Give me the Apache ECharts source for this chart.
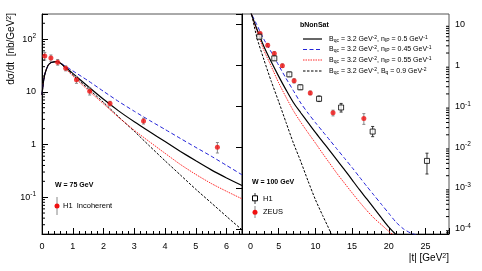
<!DOCTYPE html>
<html><head><meta charset="utf-8">
<script src="https://cdn.jsdelivr.net/npm/echarts@6/dist/echarts.min.js"></script>
<style>html,body{margin:0;padding:0;background:#fff}#c{width:482px;height:271px}</style>
</head><body><div id="c"></div>
<script>
// ---------------- data ----------------
// Left panel: W = 75 GeV, incoherent
const leftT     = [0, 0.05, 0.1, 0.2, 0.3, 0.5, 0.75, 1, 1.5, 2, 2.5, 3, 3.5, 4, 4.5, 5, 5.5, 6, 6.5];
const leftSolid = [8.8, 16, 22.5, 32, 36, 37.5, 29.5, 22.4, 12.6, 7.2, 4.3, 2.7, 1.74, 1.135, 0.74, 0.49, 0.33, 0.232, 0.166];
const leftBlue  = [8.8, 16, 22.5, 32, 36, 37.5, 30.9, 25, 16.2, 10.2, 6.5, 4.27, 2.85, 1.93, 1.30, 0.88, 0.60, 0.40, 0.266];
const leftRed   = [8.8, 16, 22.5, 32, 36, 37.5, 28.2, 20, 10.7, 5.9, 3.24, 1.86, 1.12, 0.68, 0.417, 0.27, 0.182, 0.129, 0.093];
const leftDot   = [8.8, 16, 22.5, 32, 36, 37.5, 28.8, 20.9, 11.5, 6.3, 3.3, 1.78, 0.93, 0.49, 0.263, 0.141, 0.078, 0.043, 0.024];

const h1IncT   = [0.09, 0.29, 0.51, 0.77, 1.12, 1.55, 2.21, 3.3, 5.7];
const h1IncY   = [48, 44, 36.6, 28, 17, 10.3, 6.0, 2.8, 0.89];
const h1IncErr = [8, 6, 4.5, 3, 2.5, 1.6, 0.6, 0.35, 0.2];

// Right panel: W = 100 GeV
const rightDotT  = [1, 2, 3, 4, 5, 6, 7, 8, 9, 10, 11, 12, 13];
const rightDot   = [33, 5.0, 1.35, 0.40, 0.129, 0.040, 0.0126, 0.00447, 0.00148, 5.2e-4, 2.1e-4, 8.7e-5, 3.0e-5];
const rightRedT  = [1, 2, 3, 4, 5, 6, 7, 8, 9, 10, 11, 12, 13, 14, 15, 16, 17, 18, 19, 20, 21, 22];
const rightRed   = [26.3, 7.24, 2.29, 0.933, 0.372, 0.166, 0.0776, 0.0407, 0.0224, 0.0126, 0.00692, 0.00389, 0.00219, 0.00129, 7.6e-4, 4.57e-4, 2.82e-4, 1.82e-4, 1.26e-4, 8.7e-5, 6.3e-5, 4.5e-5];
const rightSolidT = [1, 2, 3, 4, 5, 6, 7, 8, 9, 10, 11, 12, 13, 14, 15, 16, 17, 18, 19, 20, 21, 22];
const rightSolid  = [24.5, 7.94, 2.85, 1.20, 0.537, 0.251, 0.123, 0.0692, 0.0398, 0.0229, 0.0135, 0.00794, 0.00468, 0.00275, 0.00158, 9.1e-4, 5.4e-4, 3.16e-4, 1.86e-4, 1.10e-4, 7.2e-5, 5.0e-5];
const rightBlueT = [1, 2, 3, 4, 5, 6, 7, 8, 9, 10, 11, 12, 13, 14, 15, 16, 17, 18, 19, 20, 21, 22, 23, 24];
const rightBlue  = [22.9, 10, 4.27, 2.09, 1.0, 0.479, 0.240, 0.120, 0.0676, 0.0398, 0.0240, 0.0145, 0.0087, 0.00525, 0.00316, 0.00186, 0.0011, 6.6e-4, 3.98e-4, 2.40e-4, 1.45e-4, 1.0e-4, 7.9e-5, 6.9e-5];

const h1T  = [2.36, 4.4, 6.45, 7.95, 10.5, 13.5, 17.8, 25.2];
const h1Y  = [5.0, 1.48, 0.60, 0.29, 0.152, 0.093, 0.024, 0.0046];
const h1Lo = [4.5, 1.32, 0.53, 0.255, 0.13, 0.072, 0.018, 0.0022];
const h1Hi = [5.6, 1.66, 0.68, 0.33, 0.178, 0.117, 0.032, 0.0071];

const zeusT  = [2.46, 3.5, 4.4, 5.5, 7.1, 9.3, 12.4, 16.6];
const zeusY  = [6.0, 3.1, 1.95, 0.98, 0.42, 0.21, 0.069, 0.050];
const zeusLo = [5.5, 2.85, 1.78, 0.89, 0.37, 0.19, 0.058, 0.036];
const zeusHi = [6.5, 3.4, 2.15, 1.08, 0.47, 0.235, 0.080, 0.066];

const leftXTicks = [0, 1, 2, 3, 4, 5, 6];
const rightXTicks = [0, 5, 10, 15, 20, 25];

// ---------------- helpers ----------------
const zip = (xs, ys) => xs.map((x, i) => [x, ys[i]]);
const FONT = 'Liberation Sans, Arial, sans-serif';
const L = {xmin: 0, xmax: 6.5, ymin: 0.02, ymax: 300};
const R = {xmin: 0, xmax: 28.2, ymin: 7.5e-5, ymax: 18};

function logLabel(v) {
  const e = Math.log10(v), r = Math.round(e);
  if (Math.abs(e - r) > 1e-6) return '';
  if (r === 0) return '1';
  if (r === 1) return '10';
  return '10{s|' + r + '}';
}
function minorVals(lo, hi) {
  const out = [];
  for (let n = Math.floor(Math.log10(lo)); n <= Math.ceil(Math.log10(hi)); n++) {
    for (let k = 2; k <= 9; k++) { const v = k * Math.pow(10, n); if (v > lo && v < hi) out.push(v); }
  }
  return out;
}
function minorTickSeries(xi, xv, dir, vals) {
  return {
    type: 'custom', xAxisIndex: xi, yAxisIndex: xi, silent: true, z: 5,
    data: vals.map(v => [xv, v]), encode: {x: 0, y: 1},
    renderItem: (p, api) => {
      const c = api.coord([api.value(0), api.value(1)]);
      return {type: 'line', shape: {x1: c[0], y1: c[1], x2: c[0] + dir * 3, y2: c[1]}, style: {stroke: '#000', lineWidth: 1}};
    }
  };
}
function errSeries(xi, data, color) {
  return {
    type: 'custom', xAxisIndex: xi, yAxisIndex: xi, silent: true, z: 3,
    data: data, encode: {x: 0, y: [1, 2]},
    renderItem: (p, api) => {
      const a = api.coord([api.value(0), api.value(1)]);
      const b = api.coord([api.value(0), api.value(2)]);
      const st = {stroke: color, lineWidth: 1};
      return {type: 'group', children: [
        {type: 'line', shape: {x1: a[0], y1: a[1], x2: b[0], y2: b[1]}, style: st},
        {type: 'line', shape: {x1: a[0] - 1.5, y1: a[1], x2: a[0] + 1.5, y2: a[1]}, style: st},
        {type: 'line', shape: {x1: b[0] - 1.5, y1: b[1], x2: b[0] + 1.5, y2: b[1]}, style: st}
      ]};
    }
  };
}
const lineStyles = {
  solid: {color: '#000', width: 1.2, type: 'solid'},
  blue:  {color: '#2323d8', width: 1, type: [4, 2.5]},
  red:   {color: '#ff2a2a', width: 1, type: [1.5, 1]},
  dot:   {color: '#000', width: 1, type: [2.5, 1.5]}
};
function curve(xi, xs, ys, st) {
  return {type: 'line', xAxisIndex: xi, yAxisIndex: xi, data: zip(xs, ys), showSymbol: false, smooth: 0.25,
    lineStyle: st, silent: true, z: 2, clip: true};
}
const axLabel = {fontFamily: FONT, fontSize: 9, color: '#000'};
const supRich = {s: {fontFamily: FONT, fontSize: 6.5, verticalAlign: 'top', lineHeight: 12, padding: [0, 0, 4, 0]}};

const option = {
  animation: false,
  backgroundColor: '#fff',
  grid: [
    {left: 42, top: 14, width: 200, height: 220, show: true, borderColor: '#555', borderWidth: 1},
    {left: 242, top: 14, width: 207, height: 220, show: true, borderColor: '#555', borderWidth: 1}
  ],
  xAxis: [
    {type: 'value', gridIndex: 0, min: L.xmin, max: L.xmax, interval: 1,
     axisLine: {show: true, lineStyle: {color: '#000'}}, splitLine: {show: false},
     axisTick: {inside: true, length: 6, lineStyle: {color: '#000'}},
     minorTick: {show: true, splitNumber: 5, length: 3, lineStyle: {color: '#000'}},
     axisLabel: Object.assign({margin: 8, showMaxLabel: false,
       formatter: v => leftXTicks.includes(v) ? String(v) : ''}, axLabel)},
    {type: 'value', gridIndex: 1, min: R.xmin, max: R.xmax, interval: 5,
     axisLine: {show: true, lineStyle: {color: '#000'}}, splitLine: {show: false},
     axisTick: {inside: true, length: 6, lineStyle: {color: '#000'}},
     minorTick: {show: true, splitNumber: 5, length: 3, lineStyle: {color: '#000'}},
     axisLabel: Object.assign({margin: 8, showMaxLabel: false, alignMinLabel: 'left',
       rich: {z: {fontFamily: FONT, fontSize: 9, padding: [0, 0, 0, 6]}},
       formatter: v => v === 0 ? '{z|0}' : (rightXTicks.includes(v) ? String(v) : '')}, axLabel)}
  ],
  yAxis: [
    {type: 'log', gridIndex: 0, min: L.ymin, max: L.ymax, logBase: 10,
     axisLine: {show: true, lineStyle: {color: '#000'}}, splitLine: {show: false},
     axisTick: {inside: true, length: 6, lineStyle: {color: '#000'}},
     axisLabel: Object.assign({margin: 6, formatter: logLabel, rich: supRich}, axLabel)},
    {type: 'log', gridIndex: 1, position: 'right', min: R.ymin, max: R.ymax, logBase: 10,
     axisLine: {show: true, lineStyle: {color: '#000'}}, splitLine: {show: false},
     axisTick: {inside: true, length: 6, lineStyle: {color: '#000'}},
     axisLabel: Object.assign({margin: 6, formatter: logLabel, rich: supRich}, axLabel)}
  ],
  series: [
    minorTickSeries(0, L.xmin, 1, minorVals(L.ymin, L.ymax)),
    minorTickSeries(1, R.xmax, -1, minorVals(R.ymin, R.ymax)),
    curve(0, leftT, leftDot, lineStyles.dot),
    curve(0, leftT, leftRed, lineStyles.red),
    curve(0, leftT, leftBlue, lineStyles.blue),
    curve(0, leftT, leftSolid, lineStyles.solid),
    curve(1, rightDotT, rightDot, lineStyles.dot),
    curve(1, rightRedT, rightRed, lineStyles.red),
    curve(1, rightBlueT, rightBlue, lineStyles.blue),
    curve(1, rightSolidT, rightSolid, lineStyles.solid),
    errSeries(0, h1IncT.map((t, i) => [t, h1IncY[i] - h1IncErr[i], h1IncY[i] + h1IncErr[i]]), '#888'),
    errSeries(1, zeusT.map((t, i) => [t, zeusLo[i], zeusHi[i]]), '#888'),
    errSeries(1, h1T.map((t, i) => [t, h1Lo[i], h1Hi[i]]), '#333'),
    {type: 'scatter', xAxisIndex: 0, yAxisIndex: 0, data: zip(h1IncT, h1IncY), symbol: 'circle', symbolSize: 5,
     itemStyle: {color: '#f01010'}, z: 6, silent: true},
    {type: 'scatter', xAxisIndex: 1, yAxisIndex: 1, data: zip(zeusT, zeusY), symbol: 'circle', symbolSize: 5,
     itemStyle: {color: '#f01010'}, z: 6, silent: true},
    {type: 'scatter', xAxisIndex: 1, yAxisIndex: 1, data: zip(h1T, h1Y), symbol: 'rect', symbolSize: 5,
     itemStyle: {color: '#fff', borderColor: '#000', borderWidth: 1}, z: 7, silent: true}
  ],
  graphic: [
    // axis titles
    {type: 'text', x: 11, y: 13, rotation: Math.PI / 2, style: {
      text: 'd\u03c3/dt  [nb/GeV{s|2}]', font: '10px ' + FONT, fill: '#000', align: 'right', verticalAlign: 'middle',
      rich: {s: {fontFamily: FONT, fontSize: 7, verticalAlign: 'top', padding: [0, 0, 4, 0]}}}},
    {type: 'text', x: 449, y: 258, style: {
      text: '|t| [GeV{s|2}]', font: '10px ' + FONT, fill: '#000', align: 'right', verticalAlign: 'middle',
      rich: {s: {fontFamily: FONT, fontSize: 7, verticalAlign: 'top', padding: [0, 0, 4, 0]}}}},
    // left panel legend
    {type: 'text', x: 55, y: 185, style: {text: 'W = 75 GeV', font: 'bold 7px ' + FONT, fill: '#000', verticalAlign: 'middle'}},
    {type: 'line', shape: {x1: 57, y1: 197, x2: 57, y2: 215}, style: {stroke: '#888', lineWidth: 1}},
    {type: 'circle', shape: {cx: 57, cy: 206, r: 2.5}, style: {fill: '#f01010'}},
    {type: 'text', x: 63, y: 206, style: {text: 'H1  Incoherent', font: '7.5px ' + FONT, fill: '#000', verticalAlign: 'middle'}},
    // right panel data legend
    {type: 'text', x: 252, y: 182, style: {text: 'W = 100 GeV', font: 'bold 7px ' + FONT, fill: '#000', verticalAlign: 'middle'}},
    {type: 'line', shape: {x1: 255, y1: 193, x2: 255, y2: 204}, style: {stroke: '#333', lineWidth: 1}},
    {type: 'rect', shape: {x: 252.5, y: 195.8, width: 5, height: 5}, style: {fill: '#fff', stroke: '#000', lineWidth: 1}},
    {type: 'text', x: 263, y: 198.5, style: {text: 'H1', font: '7.5px ' + FONT, fill: '#000', verticalAlign: 'middle'}},
    {type: 'line', shape: {x1: 255, y1: 206, x2: 255, y2: 218}, style: {stroke: '#888', lineWidth: 1}},
    {type: 'circle', shape: {cx: 255, cy: 212.3, r: 2.5}, style: {fill: '#f01010'}},
    {type: 'text', x: 263, y: 212.3, style: {text: 'ZEUS', font: '7.5px ' + FONT, fill: '#000', verticalAlign: 'middle'}},
    // model legend
    {type: 'text', x: 300, y: 25.5, style: {text: 'bNonSat', font: 'bold 7px ' + FONT, fill: '#000', verticalAlign: 'middle'}},
    {type: 'line', shape: {x1: 303, y1: 39, x2: 322, y2: 39}, style: {stroke: '#000', lineWidth: 1.2}},
    {type: 'line', shape: {x1: 303, y1: 49.5, x2: 322, y2: 49.5}, style: {stroke: '#2323d8', lineWidth: 1, lineDash: [4, 2.5]}},
    {type: 'line', shape: {x1: 303, y1: 60, x2: 322, y2: 60}, style: {stroke: '#ff2a2a', lineWidth: 1, lineDash: [1.5, 1]}},
    {type: 'line', shape: {x1: 303, y1: 71, x2: 322, y2: 71}, style: {stroke: '#000', lineWidth: 1, lineDash: [2.5, 1.5]}},
    ...[
      ['0.5 GeV', '-1', 'n', 'IP', 39],
      ['0.45 GeV', '-1', 'n', 'IP', 49.5],
      ['0.55 GeV', '-1', 'n', 'IP', 60],
      ['0.9 GeV', '-2', 'B', 'q', 71]
    ].map(r => ({type: 'text', x: 329, y: r[4], style: {
      text: 'B{b|qc} = 3.2 GeV{p|-2}, ' + r[2] + '{b|' + r[3] + '} = ' + r[0] + '{p|' + r[1] + '}',
      font: '7px ' + FONT, fill: '#000', verticalAlign: 'middle',
      rich: {b: {fontFamily: FONT, fontSize: 5, verticalAlign: 'bottom', padding: [3, 0, 0, 0]},
             p: {fontFamily: FONT, fontSize: 5, verticalAlign: 'top', padding: [0, 0, 3, 0]}}}}))
  ]
};
const chart = echarts.init(document.getElementById('c'), null, {renderer: 'canvas'});
chart.setOption(option);
</script></body></html>
